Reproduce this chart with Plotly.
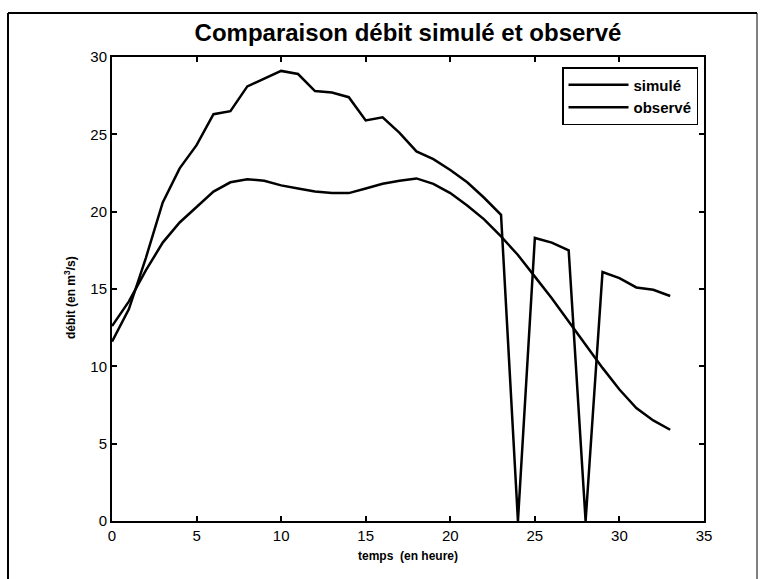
import plotly.graph_objects as go

# Time axis (hours) and discharge series (m3/s)
temps = list(range(34))
debit_simule = [11.6, 13.7, 17.0, 20.6, 22.8, 24.3, 26.3, 26.5, 28.1, 28.6,
                29.1, 28.9, 27.8, 27.7, 27.4, 25.9, 26.1, 25.1, 23.9, 23.4,
                22.7, 21.9, 20.9, 19.8, 0.0, 18.3, 18.0, 17.5, 0.0, 16.1,
                15.7, 15.1, 14.95, 14.55]
debit_observe = [12.6, 14.2, 16.2, 18.0, 19.3, 20.3, 21.3, 21.9, 22.1, 22.0,
                 21.7, 21.5, 21.3, 21.2, 21.2, 21.5, 21.8, 22.0, 22.15, 21.8,
                 21.2, 20.4, 19.5, 18.4, 17.2, 15.8, 14.4, 12.9, 11.4, 9.9,
                 8.5, 7.3, 6.5, 5.9]

x_ticks = [0, 5, 10, 15, 20, 25, 30, 35]
y_ticks = [0, 5, 10, 15, 20, 25, 30]

W, H = 764, 579
L, R, T, B = 112, 60, 57, 58
pw, ph = W - L - R, H - T - B

font_family = "Liberation Sans, Arial, sans-serif"

fig = go.Figure()
fig.add_trace(go.Scatter(x=temps, y=debit_simule, mode="lines", name="simulé",
                         line=dict(color="black", width=2.5)))
fig.add_trace(go.Scatter(x=temps, y=debit_observe, mode="lines", name="observé",
                         line=dict(color="black", width=2.5)))

axis_common = dict(showline=True, linecolor="black", linewidth=2, mirror="ticks",
                   ticks="inside", ticklen=5, tickwidth=1.5, tickcolor="black",
                   showgrid=False, zeroline=False,
                   tickfont=dict(family=font_family, size=15, color="black"))

fig.update_xaxes(range=[0, 35], tickvals=x_ticks, **axis_common)
fig.update_yaxes(range=[0, 30], tickvals=y_ticks, **axis_common)


def px_x(p):
    return (p - L) / pw


def px_y(p):
    return (H - B - p) / ph


fig.update_layout(
    width=W, height=H,
    margin=dict(l=L, r=R, t=T, b=B),
    paper_bgcolor="white", plot_bgcolor="white",
    showlegend=True,
    legend=dict(x=px_x(698), y=px_y(67), xanchor="right", yanchor="top",
                bgcolor="white", bordercolor="black", borderwidth=1.5,
                font=dict(family=font_family, size=15, color="black", weight="bold"),
                itemwidth=60, tracegroupgap=0),
    title=dict(text="<b>Comparaison débit simulé et observé</b>",
               x=0.5, xref="paper", xanchor="center",
               y=1 - 33 / H, yref="container", yanchor="middle",
               font=dict(family=font_family, size=24, color="black")),
    annotations=[
        dict(text="<b>temps  (en heure)</b>", xref="paper", yref="paper",
             x=0.5, y=px_y(556), xanchor="center", yanchor="middle",
             showarrow=False, font=dict(family=font_family, size=12, color="black")),
        dict(text="<b>débit (en m<sup>3</sup>/s)</b>", xref="paper", yref="paper",
             x=px_x(70), y=px_y(298), xanchor="center", yanchor="middle",
             textangle=-90, showarrow=False,
             font=dict(family=font_family, size=12, color="black")),
    ],
    shapes=[
        dict(type="line", xref="paper", yref="paper",
             x0=px_x(8), x1=px_x(8), y0=px_y(13), y1=px_y(590),
             line=dict(color="black", width=2)),
        dict(type="line", xref="paper", yref="paper",
             x0=px_x(8), x1=px_x(757), y0=px_y(13), y1=px_y(13),
             line=dict(color="black", width=2)),
        dict(type="line", xref="paper", yref="paper",
             x0=px_x(757), x1=px_x(757), y0=px_y(13), y1=px_y(590),
             line=dict(color="black", width=1)),
    ],
)

fig.write_html("out.html")
